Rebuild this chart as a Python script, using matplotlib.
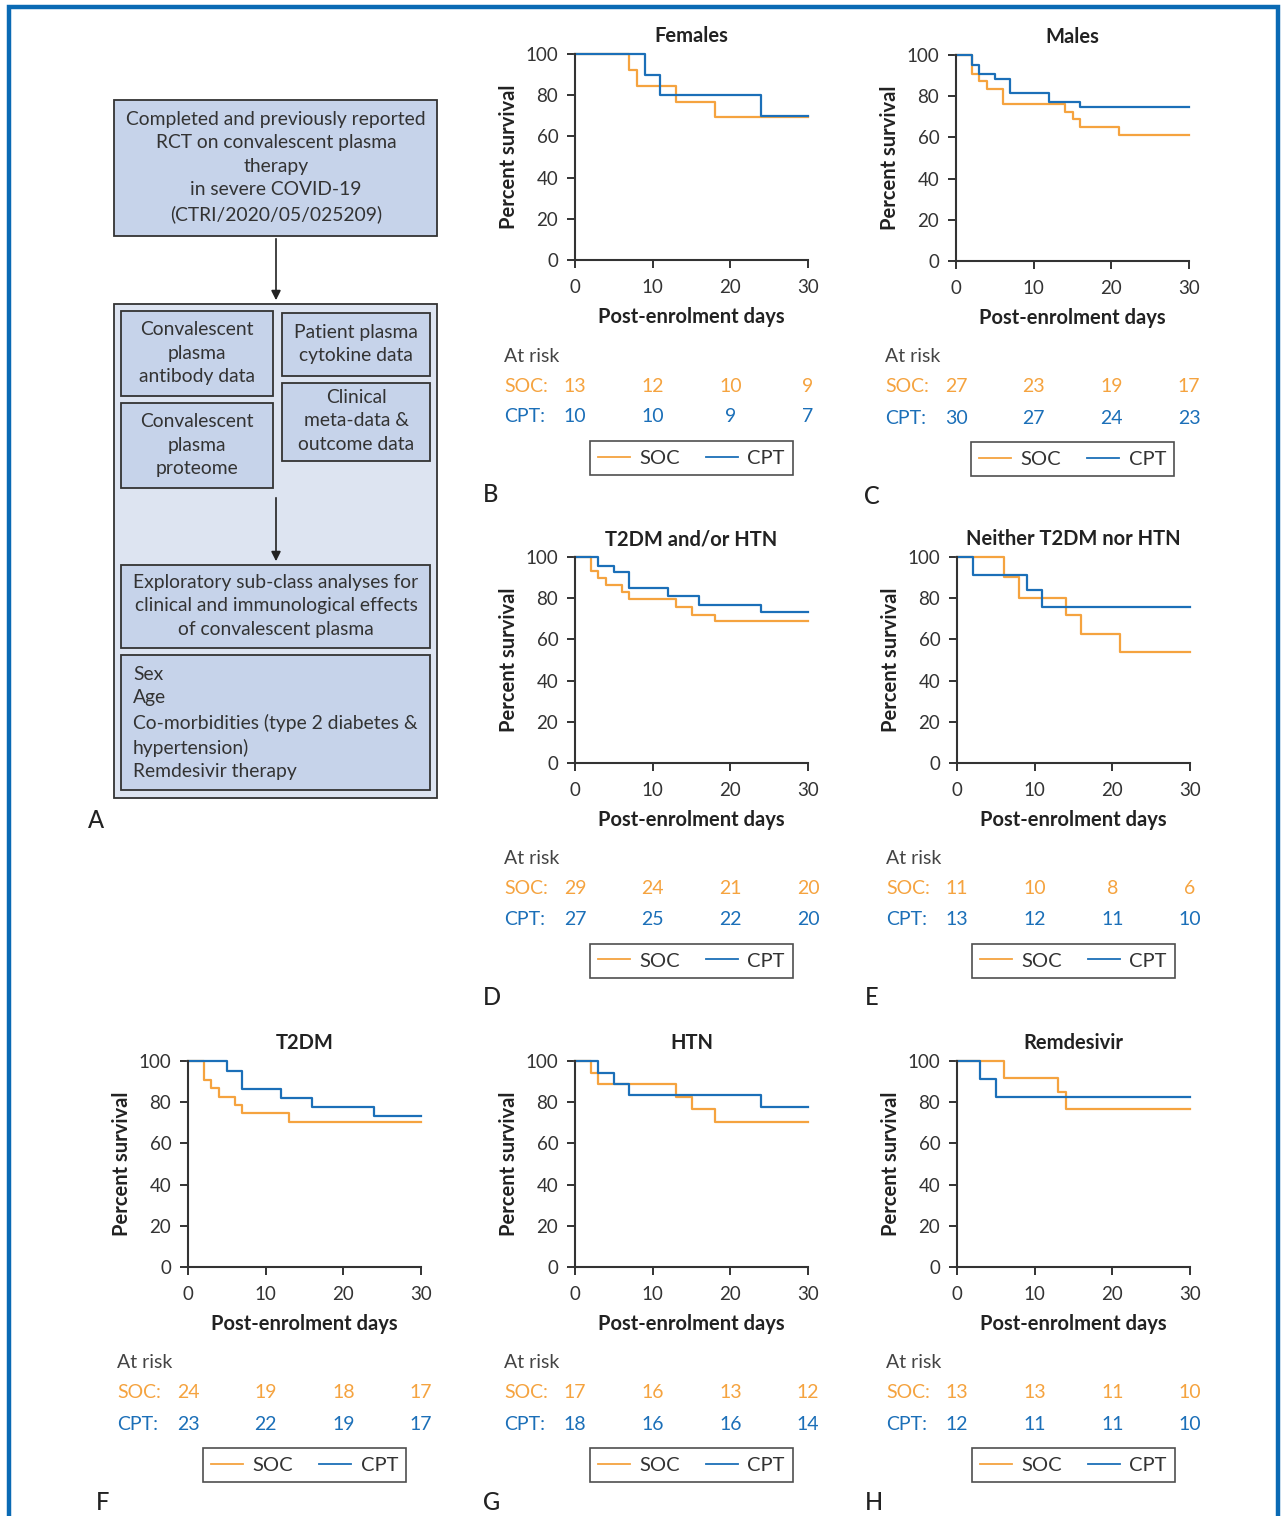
import numpy as np
import matplotlib
matplotlib.use('Agg')
import matplotlib.pyplot as plt
from matplotlib.patches import Rectangle
import matplotlib.transforms as mtransforms

plt.rcParams['font.family'] = ['Lato', 'DejaVu Sans']

W, H = 1281, 1516
SOC_COL = '#f5a33f'
CPT_COL = '#1b6fb8'
DARK = '#333333'

# --- survival curves (day, percent) ---
fem_soc_t = [0, 7, 8, 13, 18, 30]
fem_soc_s = [100, 92.3, 84.6, 76.9, 69.2, 69.2]
fem_cpt_t = [0, 9, 11, 24, 30]
fem_cpt_s = [100, 90, 80, 70, 70]

male_soc_t = [0, 2, 3, 4, 6, 14, 15, 16, 21, 30]
male_soc_s = [100, 90.6, 87.2, 83.3, 76.0, 72.4, 69.0, 65.0, 61.1, 61.1]
male_cpt_t = [0, 2, 3, 5, 7, 12, 16, 30]
male_cpt_s = [100, 95.0, 90.8, 88.3, 81.7, 77.3, 74.9, 74.9]

any_soc_t = [0, 2, 3, 4, 6, 7, 13, 15, 18, 30]
any_soc_s = [100, 93.0, 89.6, 86.2, 83.2, 79.4, 75.7, 72.0, 68.8, 68.8]
any_cpt_t = [0, 3, 5, 7, 12, 16, 24, 30]
any_cpt_s = [100, 95.8, 92.6, 85.0, 81.2, 76.9, 73.5, 73.5]

nei_soc_t = [0, 6, 8, 14, 16, 21, 30]
nei_soc_s = [100, 90.1, 80.3, 71.7, 62.8, 53.9, 53.9]
nei_cpt_t = [0, 2, 9, 11, 30]
nei_cpt_s = [100, 91.4, 84.0, 75.7, 75.7]

t2dm_soc_t = [0, 2, 3, 4, 6, 7, 13, 30]
t2dm_soc_s = [100, 90.9, 86.9, 82.4, 78.5, 74.6, 70.6, 70.6]
t2dm_cpt_t = [0, 5, 7, 12, 16, 24, 30]
t2dm_cpt_s = [100, 95.1, 86.2, 82.0, 77.7, 73.3, 73.3]

htn_soc_t = [0, 2, 3, 13, 15, 18, 30]
htn_soc_s = [100, 94.3, 88.7, 82.4, 76.9, 70.6, 70.6]
htn_cpt_t = [0, 3, 5, 7, 24, 30]
htn_cpt_s = [100, 94.2, 88.7, 83.3, 77.8, 77.8]

rem_soc_t = [0, 6, 13, 14, 30]
rem_soc_s = [100, 91.9, 85.0, 76.7, 76.7]
rem_cpt_t = [0, 3, 5, 30]
rem_cpt_s = [100, 91.1, 82.7, 82.7]

risk_days = [0, 10, 20, 30]
fem_risk = ([13, 12, 10, 9], [10, 10, 9, 7])
male_risk = ([27, 23, 19, 17], [30, 27, 24, 23])
any_risk = ([29, 24, 21, 20], [27, 25, 22, 20])
nei_risk = ([11, 10, 8, 6], [13, 12, 11, 10])
t2dm_risk = ([24, 19, 18, 17], [23, 22, 19, 17])
htn_risk = ([17, 16, 13, 12], [18, 16, 16, 14])
rem_risk = ([13, 13, 11, 10], [12, 11, 11, 10])

panels = [
    ('B', 'Females', (575, 54, 808, 260), fem_soc_t, fem_soc_s, fem_cpt_t, fem_cpt_s, fem_risk),
    ('C', 'Males', (956, 55, 1189, 261), male_soc_t, male_soc_s, male_cpt_t, male_cpt_s, male_risk),
    ('D', 'T2DM and/or HTN', (575, 557, 808, 763), any_soc_t, any_soc_s, any_cpt_t, any_cpt_s, any_risk),
    ('E', 'Neither T2DM nor HTN', (957, 557, 1190, 763), nei_soc_t, nei_soc_s, nei_cpt_t, nei_cpt_s, nei_risk),
    ('F', 'T2DM', (188, 1061, 421, 1267), t2dm_soc_t, t2dm_soc_s, t2dm_cpt_t, t2dm_cpt_s, t2dm_risk),
    ('G', 'HTN', (575, 1061, 808, 1267), htn_soc_t, htn_soc_s, htn_cpt_t, htn_cpt_s, htn_risk),
    ('H', 'Remdesivir', (957, 1061, 1190, 1267), rem_soc_t, rem_soc_s, rem_cpt_t, rem_cpt_s, rem_risk),
]


def pbox(l, t, r, b):
    return [l / W, 1 - b / H, (r - l) / W, (b - t) / H]


fig = plt.figure(figsize=(W / 100, H / 100), dpi=100)

# overlay for flowchart and frame
ax0 = fig.add_axes([0, 0, 1, 1])
ax0.set_xlim(0, W)
ax0.set_ylim(H, 0)
ax0.axis('off')

frame_col = '#0a6ab4'
ax0.plot([8.5, 8.5, 1278, 1278], [H, 7, 7, H], color=frame_col, lw=3.2, solid_joinstyle='miter')

BOX1 = '#c6d3ea'
BOX0 = '#dde4f1'


def rect(l, t, r, b, fc):
    ax0.add_patch(Rectangle((l, t), r - l, b - t, fc=fc, ec=DARK, lw=1.3))


fs_a = 13.9
ls_a = 1.47
rect(114, 100, 437, 236, BOX1)
ax0.text(276, 167, 'Completed and previously reported\nRCT on convalescent plasma\ntherapy\nin severe COVID-19\n(CTRI/2020/05/025209)',
         ha='center', va='center', fontsize=fs_a, color=DARK, linespacing=ls_a)
rect(114, 304, 437, 798, BOX0)
ax0.annotate('', xy=(276, 303), xytext=(276, 236),
             arrowprops=dict(arrowstyle='-|>', color='#222222', lw=1.2, mutation_scale=14))
rect(121, 311, 273, 396, BOX1)
ax0.text(197, 353, 'Convalescent\nplasma\nantibody data', ha='center', va='center', fontsize=fs_a, color=DARK, linespacing=ls_a)
rect(282, 313, 430, 376, BOX1)
ax0.text(356, 344, 'Patient plasma\ncytokine data', ha='center', va='center', fontsize=fs_a, color=DARK, linespacing=ls_a)
rect(282, 383, 430, 461, BOX1)
ax0.text(356, 421, 'Clinical\nmeta-data &\noutcome data', ha='center', va='center', fontsize=fs_a, color=DARK, linespacing=ls_a)
rect(121, 403, 273, 488, BOX1)
ax0.text(197, 445, 'Convalescent\nplasma\nproteome', ha='center', va='center', fontsize=fs_a, color=DARK, linespacing=ls_a)
ax0.annotate('', xy=(276, 564), xytext=(276, 495),
             arrowprops=dict(arrowstyle='-|>', color='#222222', lw=1.2, mutation_scale=14))
rect(121, 565, 430, 648, BOX1)
ax0.text(276, 606, 'Exploratory sub-class analyses for\nclinical and immunological effects\nof convalescent plasma',
         ha='center', va='center', fontsize=fs_a, color=DARK, linespacing=ls_a)
rect(121, 655, 430, 790, BOX1)
ax0.text(133, 723, 'Sex\nAge\nCo-morbidities (type 2 diabetes &\nhypertension)\nRemdesivir therapy',
         ha='left', va='center', fontsize=fs_a, color=DARK, linespacing=ls_a)
ax0.text(96, 820, 'A', ha='center', va='center', fontsize=17, color='#222222', fontweight='medium')

for letter, title, bx, st, ss, ct, cs, risk in panels:
    l, t, r, b = bx
    aw, ah = r - l, b - t
    ax = fig.add_axes(pbox(*bx))
    ax.patch.set_alpha(0)
    ax.step(st, ss, where='post', color=SOC_COL, lw=1.6, clip_on=False, label='SOC')
    ax.step(ct, cs, where='post', color=CPT_COL, lw=1.6, clip_on=False, label='CPT')
    ax.set_xlim(0, 30)
    ax.set_ylim(0, 100)
    ax.set_xticks([0, 10, 20, 30])
    ax.set_yticks([0, 20, 40, 60, 80, 100])
    for s in ['top', 'right']:
        ax.spines[s].set_visible(False)
    for s in ['left', 'bottom']:
        ax.spines[s].set_color(DARK)
        ax.spines[s].set_linewidth(1.5)
    ax.tick_params(direction='out', length=6, width=1.4, color=DARK, labelcolor=DARK, labelsize=13.5)
    ax.tick_params(axis='x', pad=8)
    ax.tick_params(axis='y', pad=6)
    ax.text(0.5, 1 + 18 / ah, title, transform=ax.transAxes, ha='center', va='center',
            fontsize=14.5, fontweight='bold', color='#222222')
    ax.text(0.5, -57 / ah, 'Post-enrolment days', transform=ax.transAxes, ha='center', va='center',
            fontsize=14.5, fontweight='bold', color='#222222')
    ax.text(-66 / aw, 0.5, 'Percent survival', transform=ax.transAxes, ha='center', va='center',
            rotation=90, fontsize=14.5, fontweight='bold', color='#222222')

    trans = mtransforms.blended_transform_factory(ax.transData, ax.transAxes)
    ax.text(-71 / aw, -96 / ah, 'At risk', transform=ax.transAxes, ha='left', va='center',
            fontsize=14, color='#444444')
    ax.text(-71 / aw, -126 / ah, 'SOC:', transform=ax.transAxes, ha='left', va='center',
            fontsize=14, color=SOC_COL)
    ax.text(-71 / aw, -157 / ah, 'CPT:', transform=ax.transAxes, ha='left', va='center',
            fontsize=14, color=CPT_COL)
    for d, n in zip(risk_days, risk[0]):
        ax.text(d, -126 / ah, str(n), transform=trans, ha='center', va='center', fontsize=14, color=SOC_COL)
    for d, n in zip(risk_days, risk[1]):
        ax.text(d, -157 / ah, str(n), transform=trans, ha='center', va='center', fontsize=14, color=CPT_COL)

    leg = ax.legend(loc='center', bbox_to_anchor=(0.5, -198 / ah), ncol=2, frameon=True, fancybox=False,
                    edgecolor='#222222', fontsize=14.5, handlelength=1.6, handletextpad=0.45,
                    columnspacing=1.3, borderpad=0.4, borderaxespad=0)
    leg.get_frame().set_linewidth(1.2)
    for txt in leg.get_texts():
        txt.set_color('#333333')
    for line in leg.get_lines():
        line.set_linewidth(1.3)

    ax.text(-92 / aw, -235 / ah, letter, transform=ax.transAxes, ha='left', va='center',
            fontsize=17, fontweight='medium', color='#222222')

fig.savefig('out.png', dpi=100)
